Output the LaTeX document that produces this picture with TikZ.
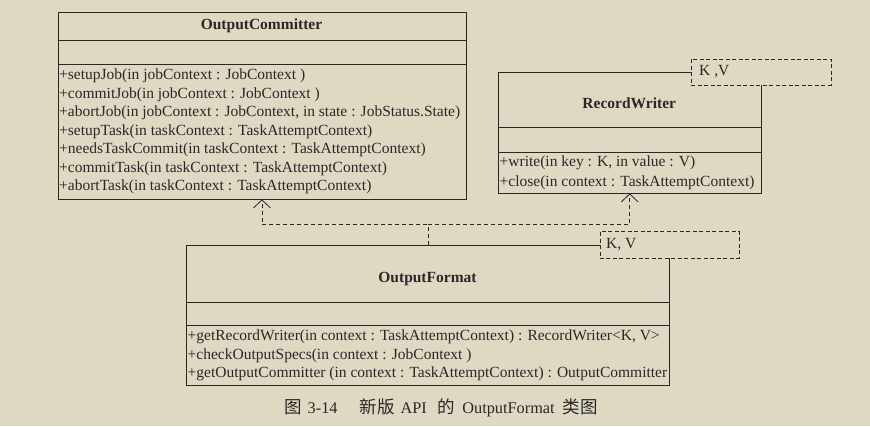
\documentclass[tikz,border=0pt]{standalone}
\usepackage{fontspec}
\setmainfont{Liberation Serif}
\newfontfamily\cjk{Noto Sans CJK SC}
\usetikzlibrary{arrows.meta}
\definecolor{bg}{RGB}{223,216,195}
\definecolor{ink}{RGB}{40,40,40}
\tikzset{
  classbox/.style={draw=ink, line width=0.9pt, inner sep=0pt, anchor=north west},
  sep/.style={draw=ink, line width=0.9pt},
  tparam/.style={draw=ink, line width=0.8pt, dash pattern=on 4pt off 2.5pt, fill=bg, inner sep=0pt, anchor=north west},
  ctitle/.style={font=\fontsize{15.5}{18}\selectfont\bfseries, text=ink, inner sep=0pt},
  meth/.style={font=\fontsize{15.5}{18}\selectfont, text=ink, inner sep=0pt, anchor=west},
  dep/.style={draw=ink, line width=0.8pt, dash pattern=on 4pt off 3pt, -{Straight Barb[length=8pt,width=17pt,line width=0.8pt]}}
}
\newcommand{\cjkpart}[1]{{\cjk\fontsize{17.5}{19}\selectfont #1}}
\begin{document}
\begin{tikzpicture}[x=1pt,y=-1pt]
\useasboundingbox (0,0) rectangle (870,426);
\fill[bg] (0,0) rectangle (870,426);

% OutputCommitter
\node[classbox, minimum width=408pt, minimum height=186.5pt] (oc) at (57.5,12) {};
\draw[sep] (oc.west |- 0,40) -- (oc.east |- 0,40);
\draw[sep] (oc.west |- 0,64) -- (oc.east |- 0,64);
\node[ctitle] (octitle) at (261.5,26) {OutputCommitter};
\node[meth] (oc1) at (59,76) {+setupJob(in jobContext : JobContext )};
\node[meth] (oc2) at (59,94.5) {+commitJob(in jobContext : JobContext )};
\node[meth] (oc3) at (59,113) {+abortJob(in jobContext : JobContext, in state : JobStatus.State)};
\node[meth] (oc4) at (59,131.5) {+setupTask(in taskContext : TaskAttemptContext)};
\node[meth] (oc5) at (59,150) {+needsTaskCommit(in taskContext : TaskAttemptContext)};
\node[meth] (oc6) at (59,168.5) {+commitTask(in taskContext : TaskAttemptContext)};
\node[meth] (oc7) at (59,187) {+abortTask(in taskContext : TaskAttemptContext)};

% RecordWriter
\node[classbox, minimum width=262.5pt, minimum height=120.5pt] (rw) at (498,72) {};
\draw[sep] (rw.west |- 0,127.5) -- (rw.east |- 0,127.5);
\draw[sep] (rw.west |- 0,152) -- (rw.east |- 0,152);
\node[ctitle] (rwtitle) at (629.25,103.5) {RecordWriter};
\node[meth] (rw1) at (499.5,163) {+write(in key : K, in value : V)};
\node[meth] (rw2) at (499.5,182.5) {+close(in context : TaskAttemptContext)};
\node[tparam, minimum width=139.5pt, minimum height=26pt] (rwkv) at (691,58.5) {};
\node[meth] (rwkvt) at (699,71.5) {K ,V};

% OutputFormat
\node[classbox, minimum width=483pt, minimum height=140pt] (of) at (186,245) {};
\draw[sep] (of.west |- 0,302) -- (of.east |- 0,302);
\draw[sep] (of.west |- 0,325) -- (of.east |- 0,325);
\node[ctitle] (oftitle) at (427.5,279) {OutputFormat};
\node[meth] (of1) at (187.5,337) {+getRecordWriter(in context : TaskAttemptContext) : RecordWriter<K, V>};
\node[meth] (of2) at (187.5,355.5) {+checkOutputSpecs(in context : JobContext )};
\node[meth] (of3) at (187.5,374) {+getOutputCommitter (in context : TaskAttemptContext) : OutputCommitter};
\node[tparam, minimum width=139pt, minimum height=26.7pt] (ofkv) at (599.5,231) {};
\node[meth] (ofkvt) at (606,244.5) {K, V};

% dependencies
\draw[dep] (of.north) -- ++(0,-20.5) -| (oc.south);
\draw[dep] (of.north) -- ++(0,-20.5) -| (rw.south);

% caption
\node[font=\fontsize{16.3}{19}\selectfont, text=ink, inner sep=0pt, anchor=west] (cap) at (284,408)
  {\cjkpart{图}\hspace{6pt}3-14\hspace{22pt}\cjkpart{新版}\hspace{6pt}API\hspace{11pt}\cjkpart{的}\hspace{7pt}OutputFormat\hspace{8pt}\cjkpart{类图}};
\end{tikzpicture}
\end{document}
